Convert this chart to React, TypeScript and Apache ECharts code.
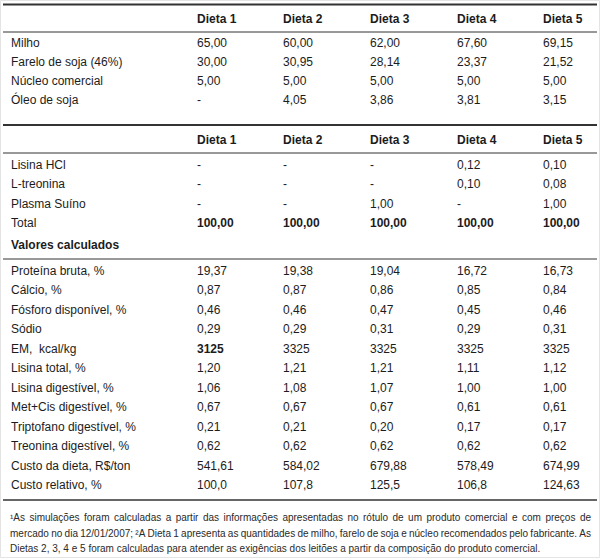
import React, { useEffect, useRef } from "react";
import * as echarts from "echarts";

const dietas = ["Dieta 1", "Dieta 2", "Dieta 3", "Dieta 4", "Dieta 5"];

const ingredientesA = ["Milho", "Farelo de soja (46%)", "Núcleo comercial", "Óleo de soja"];
const milho = ["65,00", "60,00", "62,00", "67,60", "69,15"];
const farelo = ["30,00", "30,95", "28,14", "23,37", "21,52"];
const nucleo = ["5,00", "5,00", "5,00", "5,00", "5,00"];
const oleo = ["-", "4,05", "3,86", "3,81", "3,15"];

const ingredientesB = ["Lisina HCl", "L-treonina", "Plasma Suíno", "Total"];
const lisinaHCl = ["-", "-", "-", "0,12", "0,10"];
const lTreonina = ["-", "-", "-", "0,10", "0,08"];
const plasma = ["-", "-", "1,00", "-", "1,00"];
const total = ["100,00", "100,00", "100,00", "100,00", "100,00"];

const secaoCalculados = "Valores calculados";
const nutrientes = [
  "Proteína bruta, %",
  "Cálcio, %",
  "Fósforo disponível, %",
  "Sódio",
  "EM,  kcal/kg",
  "Lisina total, %",
  "Lisina digestível, %",
  "Met+Cis digestível, %",
  "Triptofano digestível, %",
  "Treonina digestível, %",
  "Custo da dieta, R$/ton",
  "Custo relativo, %",
];
const proteina = ["19,37", "19,38", "19,04", "16,72", "16,73"];
const calcio = ["0,87", "0,87", "0,86", "0,85", "0,84"];
const fosforo = ["0,46", "0,46", "0,47", "0,45", "0,46"];
const sodio = ["0,29", "0,29", "0,31", "0,29", "0,31"];
const em = ["3125", "3325", "3325", "3325", "3325"];
const lisinaTotal = ["1,20", "1,21", "1,21", "1,11", "1,12"];
const lisinaDig = ["1,06", "1,08", "1,07", "1,00", "1,00"];
const metCis = ["0,67", "0,67", "0,67", "0,61", "0,61"];
const triptofano = ["0,21", "0,21", "0,20", "0,17", "0,17"];
const treonina = ["0,62", "0,62", "0,62", "0,62", "0,62"];
const custo = ["541,61", "584,02", "679,88", "578,49", "674,99"];
const custoRel = ["100,0", "107,8", "125,5", "106,8", "124,63"];

const footnoteLines = [
  "¹As simulações foram calculadas a partir das informações apresentadas no rótulo de um produto comercial e com preços de",
  "mercado no dia 12/01/2007; ²A Dieta 1 apresenta as quantidades de milho, farelo de soja e núcleo recomendados pelo fabricante. As",
  "Dietas 2, 3, 4 e 5 foram calculadas para atender as exigências dos leitões a partir da composição do produto comercial.",
];

const FONT = "'Liberation Sans', Arial, Helvetica, sans-serif";
const TXT = "#1c1c1c";

export default function App() {
  const ref = useRef<HTMLDivElement>(null);

  useEffect(() => {
    if (!ref.current) return;
    const chart = echarts.init(ref.current, null, { renderer: "svg" });

    const labelX = 11;
    const colX = [197, 283, 370, 457, 543];
    const elements: any[] = [];

    const text = (t: string, x: number, y: number, opts: any = {}) => {
      elements.push({
        type: "text",
        x,
        y,
        silent: true,
        style: {
          text: t,
          fill: opts.fill || TXT,
          fontFamily: FONT,
          fontSize: opts.fontSize || 12,
          fontWeight: opts.bold ? "bold" : "normal",
          align: "left",
          verticalAlign: "middle",
        },
      });
    };
    const hline = (y: number, w: number, color = "#333") => {
      elements.push({
        type: "line",
        silent: true,
        shape: { x1: 3, y1: y, x2: 597, y2: y },
        style: { stroke: color, lineWidth: w },
      });
    };

    // frame
    elements.push({
      type: "rect",
      silent: true,
      shape: { x: 0.5, y: 0.5, width: 599, height: 557 },
      style: { fill: "#fff", stroke: "#e4e4e4", lineWidth: 1 },
    });

    // Table 1
    hline(4.5, 2);
    dietas.forEach((d, i) => text(d, colX[i], 19, { bold: true }));
    hline(32, 1);
    const rowsA = [milho, farelo, nucleo, oleo];
    ingredientesA.forEach((lab, r) => {
      const y = 43 + r * 19;
      text(lab, labelX, y);
      rowsA[r].forEach((v, i) => text(v, colX[i], y));
    });

    // Table 2
    hline(125, 2);
    dietas.forEach((d, i) => text(d, colX[i], 140, { bold: true }));
    hline(153, 1);
    const rowsB = [lisinaHCl, lTreonina, plasma, total];
    ingredientesB.forEach((lab, r) => {
      const y = 165 + r * 19.3;
      text(lab, labelX, y);
      rowsB[r].forEach((v, i) => text(v, colX[i], y, { bold: r === 3 }));
    });
    text(secaoCalculados, labelX, 245, { bold: true });
    hline(259, 1);
    const rowsC = [proteina, calcio, fosforo, sodio, em, lisinaTotal, lisinaDig, metCis, triptofano, treonina, custo, custoRel];
    nutrientes.forEach((lab, r) => {
      const y = 271 + r * 19.45;
      text(lab, labelX, y);
      rowsC[r].forEach((v, i) => text(v, colX[i], y, { bold: r === 4 && i === 0 }));
    });
    hline(500, 1.5);

    // Footnote (justified)
    const fnSize = 10;
    const canvas = document.createElement("canvas");
    const ctx = canvas.getContext("2d")!;
    ctx.font = `${fnSize}px ${FONT}`;
    const left = 10;
    const right = 591;
    const fnY = [517, 533, 548];
    footnoteLines.forEach((line, li) => {
      const justify = li < footnoteLines.length - 1;
      if (!justify) {
        text(line, left, fnY[li], { fontSize: fnSize, fill: "#2a2a2a" });
        return;
      }
      const words = line.split(" ");
      const widths = words.map((w) => ctx.measureText(w).width);
      const sum = widths.reduce((a, b) => a + b, 0);
      const gap = (right - left - sum) / (words.length - 1);
      let x = left;
      words.forEach((w, k) => {
        text(w, x, fnY[li], { fontSize: fnSize, fill: "#2a2a2a" });
        x += widths[k] + gap;
      });
    });

    chart.setOption({
      animation: false,
      backgroundColor: "#ffffff",
      graphic: elements,
    });

    return () => chart.dispose();
  }, []);

  return (
    <div
      ref={ref}
      style={{ position: "absolute", left: 0, top: 0, width: 600, height: 558 }}
    />
  );
}
